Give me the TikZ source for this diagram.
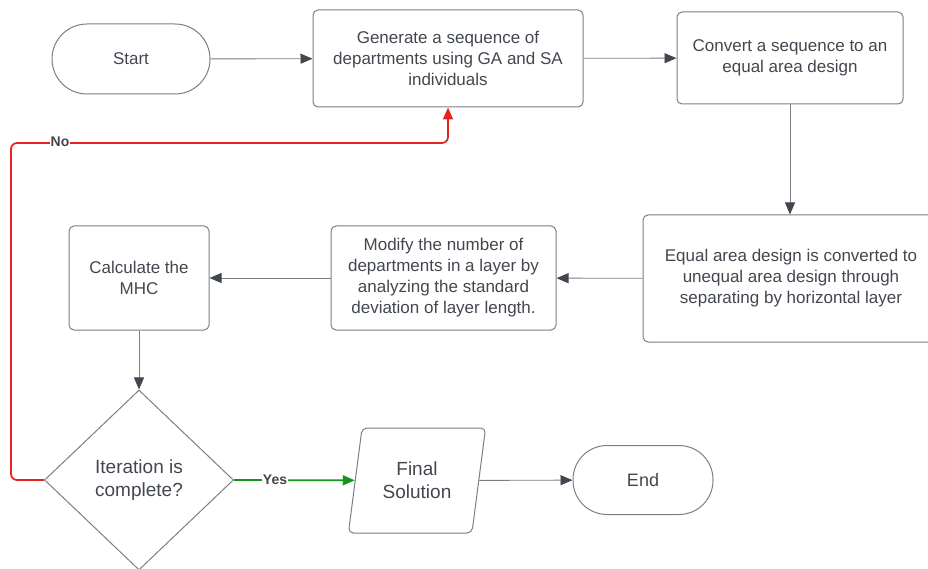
\documentclass[tikz,border=0pt]{standalone}
\usepackage{fontspec}
\setmainfont{Liberation Sans}
\usetikzlibrary{arrows.meta,positioning,shapes.geometric}
\definecolor{lineGray}{HTML}{7A7F87}
\definecolor{textGray}{HTML}{42474F}
\definecolor{noRed}{HTML}{E8231E}
\definecolor{yesGreen}{HTML}{17951B}

\begin{document}
\begin{tikzpicture}[
    x=1pt, y=-1pt,
    font=\fontsize{17}{21}\selectfont, text=textGray,
    proc/.style={rectangle, rounded corners=5pt,
                draw=lineGray, line width=1pt,
                inner sep=0pt, align=center},
    term/.style={proc, rounded corners=34pt,
                minimum width=140pt, minimum height=69pt},
    decision/.style={diamond, draw=lineGray, line width=1pt,
                minimum width=189pt, minimum height=180pt,
                inner sep=0pt, align=center,
                font=\fontsize{19}{23}\selectfont},
    io/.style={trapezium, trapezium left angle=77, trapezium right angle=103,
                rounded corners=5pt, draw=lineGray, line width=1pt,
                trapezium stretches=true,
                minimum width=138pt, minimum height=105pt,
                inner sep=0pt, align=center,
                font=\fontsize{19}{23}\selectfont},
    arr/.style={-{Triangle[length=12pt, width=10pt, color=textGray]},
                line width=0.9pt, draw=lineGray},
    arrYes/.style={-{Triangle[length=12pt, width=10pt, color=yesGreen]},
                line width=1.7pt, draw=yesGreen},
    arrNo/.style={-{Triangle[length=12pt, width=10pt, color=noRed]},
                line width=1.7pt, draw=noRed, rounded corners=6pt},
    lbl/.style={fill=white, inner sep=1pt, font=\fontsize{14}{16}\bfseries, text=textGray}
  ]
    \useasboundingbox (0,0) rectangle (928,569);

    % top row
    \node[term, minimum width=158pt, minimum height=70pt, rounded corners=35pt] (start) at (131,59) {Start};
    \node[proc, minimum width=270pt, minimum height=97pt] (gen) at (448,58.5)
        {Generate a sequence of\\departments using GA and SA\\individuals};
    \node[proc, minimum width=226pt, minimum height=92pt] (conv) at (790,58)
        {Convert a sequence to an\\equal area design};

    % middle row
    \node[proc, minimum width=296pt, minimum height=127pt] (equal) at (791,278.5)
        {Equal area design is converted to\\unequal area design through\\separating by horizontal layer};
    \node[proc, minimum width=225pt, minimum height=104pt] (modify) at (443.5,278)
        {Modify the number of\\departments in a layer by\\analyzing the standard\\deviation of layer length.};
    \node[proc, minimum width=140pt, minimum height=104pt] (calc) at (139,278)
        {Calculate the\\MHC};

    % bottom row
    \node[decision] (iter) at (139,480) {Iteration is\\complete?};
    \node[io] (final) at (417,480.5) {Final\\Solution};
    \node[term, font=\fontsize{18}{21}\selectfont] (end) at (643,480) {End};

    \draw[arr] (start) -- (gen);
    \draw[arr] (gen) -- (conv);
    \draw[arr] (conv.south) -- (conv.south |- equal.north);
    \draw[arr] (equal) -- (modify);
    \draw[arr] (modify) -- (calc);
    \draw[arr] (calc) -- (iter);
    \draw[arrYes] (iter.east) -- (final);
    \draw[arr] (final) -- (end);
    \draw[arrNo] (iter.west) -| (11,143) -| (gen.south);

    \node[lbl] (yes) at (275,480) {Yes};
    \node[lbl] (no) at (60,142) {No};
  \end{tikzpicture}
\end{document}
